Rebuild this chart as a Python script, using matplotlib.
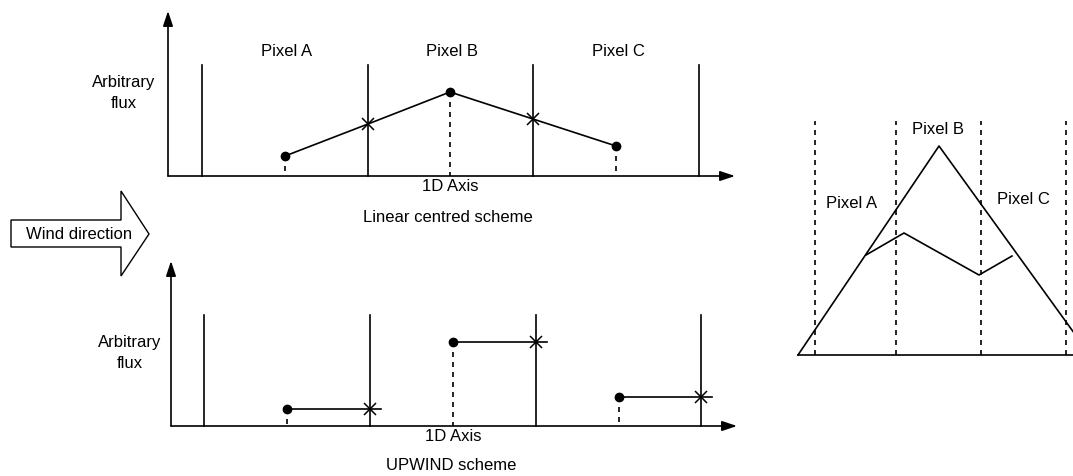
import matplotlib

matplotlib.use("Agg")
import matplotlib.pyplot as plt
from matplotlib.patches import Polygon

# diagram drawn in image-pixel coordinates (y grows downward)
# --- top panel: linear centred scheme
top_origin = (168, 177)
top_axis_end = (735, 12)
top_edges = [202, 368, 533, 699]
top_edge_top = 66
top_centres = [285, 450, 616]
top_centre_flux = [157, 93, 147]
top_face_x = [368, 533]
top_face_flux = [125, 120]

# --- bottom panel: upwind scheme
bot_origin = (171, 427)
bot_axis_end = (737, 262)
bot_edges = [204, 370, 536, 701]
bot_edge_top = 316
bot_centres = [287, 453, 619]
bot_flux = [410, 343, 398]
bot_face_x = [370, 536, 701]

# --- right panel: triangle sketch
tri_x = [798, 939, 1090]
tri_y = [356, 147, 356]
right_edges = [815, 896, 981, 1066]
inner_x = [866, 904, 979, 1012]
inner_y = [256, 234, 276, 257]

pixel_names = ["Pixel A", "Pixel B", "Pixel C"]

# --- wind arrow outline
wind_x = [11, 121, 121, 149, 121, 121, 11]
wind_y = [221, 221, 192, 235, 277, 248, 248]

INK = "black"
LW = 1.2
FS = 12

plt.rcParams["font.family"] = ["Liberation Sans", "DejaVu Sans"]
fig = plt.figure(figsize=(10.73, 4.77), dpi=100)
ax = fig.add_axes([0, 0, 1, 1])
ax.set_xlim(0, 1073)
ax.set_ylim(477, 0)
ax.axis("off")


def arrow(p0, p1):
    ax.annotate("", xy=p1, xytext=p0,
                arrowprops=dict(arrowstyle="-|>,head_length=0.9,head_width=0.3",
                                color=INK, lw=LW, shrinkA=0, shrinkB=0))


def panel(origin, axis_end, edges, edge_top, centres, title, title_y):
    ox, oy = origin
    arrow((ox, oy), (ox, axis_end[1]))
    arrow((ox, oy), (axis_end[0], oy))
    for x in edges:
        ax.plot([x, x], [oy, edge_top], color=INK, lw=LW)
    ax.text(centres[1], oy + 10, "1D Axis", ha="center", va="center", fontsize=FS)
    ax.text(centres[1] - 2, title_y, title, ha="center", va="center", fontsize=FS)


panel(top_origin, top_axis_end, top_edges, top_edge_top, top_centres,
      "Linear centred scheme", 218)
panel(bot_origin, bot_axis_end, bot_edges, bot_edge_top, bot_centres,
      "UPWIND scheme", 466)

for x, name in zip(top_centres, pixel_names):
    ax.text(x + 2, 52, name, ha="center", va="center", fontsize=FS)
ax.text(124, 93, "Arbitrary\nflux", ha="center", va="center", fontsize=FS,
        linespacing=1.45)
ax.text(130, 353, "Arbitrary\nflux", ha="center", va="center", fontsize=FS,
        linespacing=1.45)

# linear centred: centre values joined through face values
line_x = [top_centres[0], top_face_x[0], top_centres[1], top_face_x[1], top_centres[2]]
line_y = [top_centre_flux[0], top_face_flux[0], top_centre_flux[1],
          top_face_flux[1], top_centre_flux[2]]
ax.plot(line_x, line_y, color=INK, lw=LW)
ax.plot(top_centres, top_centre_flux, "o", color=INK, ms=6)
ax.plot(top_face_x, top_face_flux, "x", color=INK, ms=8.5, mew=1.1)
for x, y in zip(top_centres, top_centre_flux):
    ax.plot([x, x], [y, top_origin[1]], color=INK, lw=LW, ls=(0, (3, 3)))

# upwind: constant from centre to downstream face
for xc, xf, y in zip(bot_centres, bot_face_x, bot_flux):
    ax.plot([xc, xf + 11], [y, y], color=INK, lw=LW)
    ax.plot([xc, xc], [y, bot_origin[1]], color=INK, lw=LW, ls=(0, (3, 3)))
ax.plot(bot_centres, bot_flux, "o", color=INK, ms=6)
ax.plot(bot_face_x, bot_flux, "x", color=INK, ms=8.5, mew=1.1)

# wind direction block arrow
ax.add_patch(Polygon(list(zip(wind_x, wind_y)), closed=True, fill=False,
                     ec=INK, lw=1.0))
ax.text(79, 235, "Wind direction", ha="center", va="center", fontsize=FS)

# right-hand triangle sketch
ax.plot([tri_x[0], 1073], [tri_y[0], tri_y[0]], color=INK, lw=LW)
ax.plot(tri_x, tri_y, color=INK, lw=LW)
ax.plot(inner_x, inner_y, color=INK, lw=LW)
for x in right_edges:
    ax.plot([x, x], [tri_y[0], 122], color=INK, lw=LW, ls=(0, (3, 3)))
for x, y, name in zip([852, 938, 1023], [204, 130, 200], pixel_names):
    ax.text(x, y, name, ha="center", va="center", fontsize=FS)

fig.savefig("out.png", dpi=100)
